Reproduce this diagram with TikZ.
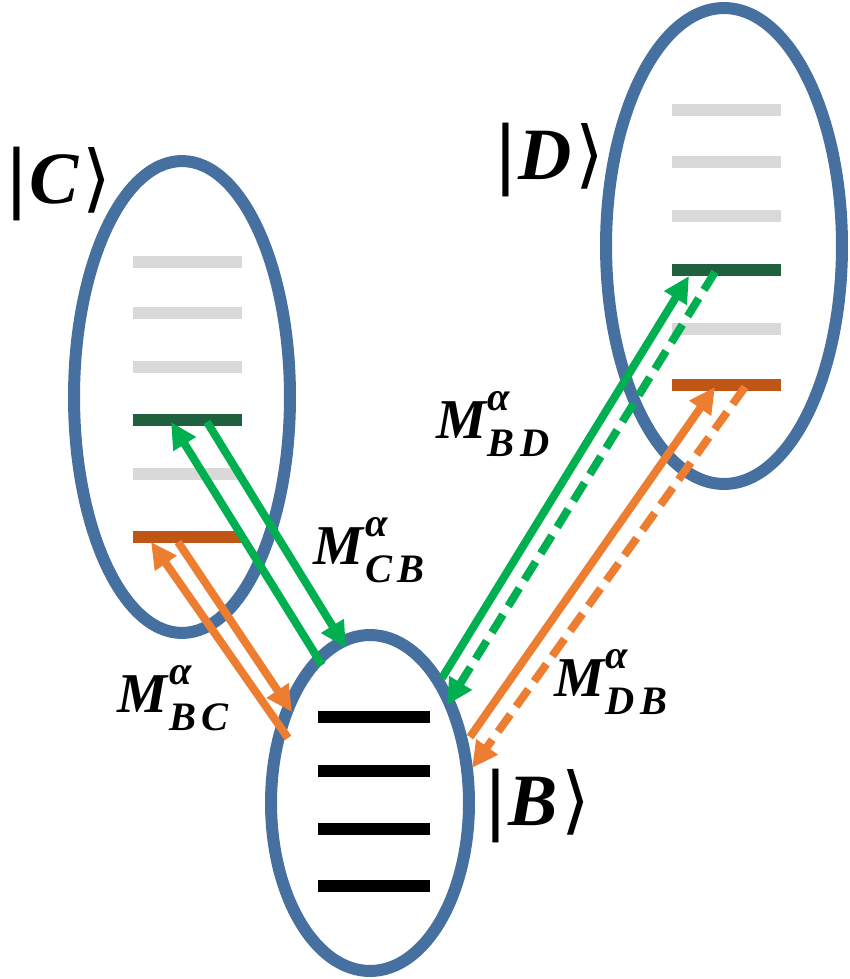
\documentclass[tikz,border=0pt]{standalone}
\usepackage{fontspec}
\setmainfont{Liberation Serif}
\newfontfamily\djv{DejaVu Sans}
\usetikzlibrary{arrows.meta,shapes.geometric}
\definecolor{ellblue}{RGB}{70,112,160}
\definecolor{lvgray}{RGB}{217,217,217}
\definecolor{lvgreen}{RGB}{31,97,63}
\definecolor{lvorange}{RGB}{192,86,22}
\definecolor{argreen}{RGB}{0,176,80}
\definecolor{arorange}{RGB}{237,125,49}
\newcommand{\bi}{\bfseries\itshape}
\newcommand{\smallbi}{\fontsize{23}{23}\selectfont\bfseries\itshape}
\newcommand{\Mlab}[2]{{\bi M}\kern0.03em\raisebox{0.5em}{\rlap{\smallbi α}}\raisebox{-0.32em}{\smallbi #1\kern0.14em#2}}
\newcommand{\ketlab}[1]{{\djv|}{\bi #1}\kern0.05em{\djv ⟩}}
\begin{document}
\begin{tikzpicture}[x=0.02cm,y=-0.02cm,
  ell/.style={draw=ellblue,line width=0.24cm,ellipse,inner sep=0pt},
  lev/.style={line width=0.24cm},
  arr/.style={line width=0.16cm,-{Triangle[length=0.52cm,width=0.5cm]}},
  dsh/.style={dash pattern=on 0.42cm off 0.2cm},
  mlab/.style={font=\fontsize{32}{36}\selectfont,inner sep=0pt},
  klab/.style={font=\fontsize{42}{48}\selectfont,inner sep=0pt}]
\useasboundingbox (0,0) rectangle (849,979);
% ellipses
\node[ell,minimum width=4.32cm,minimum height=9.44cm] (ellC) at (182,397) {};
\node[ell,minimum width=4.72cm,minimum height=9.52cm] (ellD) at (724,246) {};
\node[ell,minimum width=3.96cm,minimum height=6.72cm] (ellB) at (370,803) {};
% levels C
\foreach \y in {262,313,367,474} \draw[lev,lvgray] (133,\y) -- (242,\y);
\draw[lev,lvgreen] (133,420) -- (242,420);
\draw[lev,lvorange] (133,537) -- (242,537);
% levels D
\foreach \y in {110,162,216,329} \draw[lev,lvgray] (672,\y) -- (781,\y);
\draw[lev,lvgreen] (672,270) -- (781,270);
\draw[lev,lvorange] (672,385) -- (781,385);
% levels B
\foreach \y in {717,771,829,886} \draw[lev,black] (318,\y) -- (430,\y);
% arrow end points
\coordinate (cg1s) at (322,665); \coordinate (cg1e) at (171,422);
\coordinate (cg2s) at (207,422); \coordinate (cg2e) at (346,648);
\coordinate (co1s) at (288,738); \coordinate (co1e) at (151,542);
\coordinate (co2s) at (178,542); \coordinate (co2e) at (292,712);
\coordinate (dg1s) at (442,678); \coordinate (dg1e) at (689,276);
\coordinate (dg2s) at (715,272); \coordinate (dg2e) at (447,705);
\coordinate (do1s) at (470,737); \coordinate (do1e) at (715,387);
\coordinate (do2s) at (745,387); \coordinate (do2e) at (472,768);
\draw[arr,argreen] (cg1s) -- (cg1e);
\draw[arr,argreen] (cg2s) -- (cg2e);
\draw[arr,arorange] (co1s) -- (co1e);
\draw[arr,arorange] (co2s) -- (co2e);
\draw[arr,argreen] (dg1s) -- (dg1e);
\draw[arr,argreen,dsh] (dg2s) -- (dg2e);
\draw[arr,arorange] (do1s) -- (do1e);
\draw[arr,arorange,dsh] (do2s) -- (do2e);
% labels
\node[klab] (kC) at (58,184) {\ketlab{C}};
\node[klab] (kD) at (549,160) {\ketlab{D}};
\node[klab] (kB) at (537,806) {\ketlab{B}};
\node[mlab] (mBC) at (173,698) {\Mlab{B}{C}};
\node[mlab] (mCB) at (369,550) {\Mlab{C}{B}};
\node[mlab] (mBD) at (493,424) {\Mlab{B}{D}};
\node[mlab] (mDB) at (611,682) {\Mlab{D}{B}};
\end{tikzpicture}
\end{document}
